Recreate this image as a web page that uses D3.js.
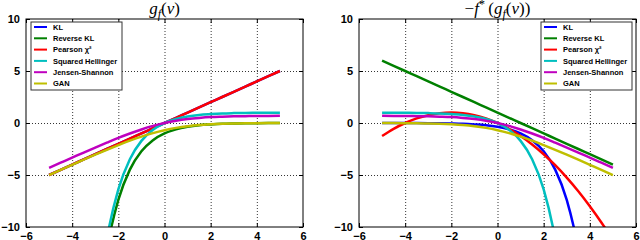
<!DOCTYPE html>
<html>
<head>
  <meta charset="utf-8">
  <style>
    body {
      margin: 0;
      background: #fff;
    }

    .tick text {
      font-family: "Liberation Sans", Arial, sans-serif;
      font-weight: bold;
      font-size: 11px;
      fill: #000;
    }

    .grid line {
      stroke: #000;
      stroke-width: 0.8;
      stroke-dasharray: 1, 2;
    }

    .grid path {
      display: none;
    }

    .legend text {
      font-family: "Liberation Sans", Arial, sans-serif;
      font-weight: bold;
      font-size: 7.5px;
    }

    .title {
      font-family: "Liberation Serif", "DejaVu Serif", serif;
      font-size: 17px;
    }
  </style>
</head>
<body>
  <svg id="chart" width="640" height="240"></svg>
  <script src="https://d3js.org/d3.v7.min.js"></script>
  <script>

    // DATA
    var vValues = [-5, -4.5, -4, -3.5, -3, -2.5, -2, -1.5, -1, -0.5, 0, 0.5, 1, 1.5, 2, 2.5, 3, 3.5, 4, 4.5, 5];

    var seriesNames = ['KL', 'Reverse KL', 'Pearson \u03c7\u00b2', 'Squared Hellinger', 'Jensen-Shannon', 'GAN'];
    var seriesColors = ['#0000ff', '#008000', '#ff0000', '#00bfbf', '#bf00bf', '#bfbf00'];

    var xTicks = [-6, -4, -2, 0, 2, 4, 6];
    var yTicks = [-10, -5, 0, 5, 10];

    // left panel: g_f(v)
    var gKL = [-5, -4.5, -4, -3.5, -3, -2.5, -2, -1.5, -1, -0.5, 0, 0.5, 1, 1.5, 2, 2.5, 3, 3.5, 4, 4.5, 5];
    var gReverseKL = [-148.4, -90.0, -54.6, -33.1, -20.1, -12.18, -7.39, -4.48, -2.72, -1.65, -1, -0.61, -0.37, -0.22, -0.14, -0.08, -0.05, -0.03, -0.02, -0.01, -0.01];
    var gPearson = [-5, -4.5, -4, -3.5, -3, -2.5, -2, -1.5, -1, -0.5, 0, 0.5, 1, 1.5, 2, 2.5, 3, 3.5, 4, 4.5, 5];
    var gHellinger = [-147.4, -89.0, -53.6, -32.1, -19.1, -11.18, -6.39, -3.48, -1.72, -0.65, 0, 0.39, 0.63, 0.78, 0.86, 0.92, 0.95, 0.97, 0.98, 0.99, 0.99];
    var gJS = [-4.31, -3.82, -3.33, -2.84, -2.36, -1.89, -1.43, -1.01, -0.62, -0.28, 0, 0.22, 0.38, 0.49, 0.57, 0.61, 0.64, 0.66, 0.68, 0.68, 0.69];
    var gGAN = [-5.01, -4.51, -4.02, -3.53, -3.05, -2.58, -2.13, -1.70, -1.31, -0.97, -0.69, -0.47, -0.31, -0.20, -0.13, -0.08, -0.05, -0.03, -0.02, -0.01, -0.01];

    // right panel: -f*(g_f(v))
    var cKL = [-0.002, -0.004, -0.007, -0.01, -0.02, -0.03, -0.05, -0.08, -0.14, -0.22, -0.37, -0.61, -1, -1.65, -2.72, -4.48, -7.39, -12.18, -20.1, -33.1, -54.6];
    var cReverseKL = [6, 5.5, 5, 4.5, 4, 3.5, 3, 2.5, 2, 1.5, 1, 0.5, 0, -0.5, -1, -1.5, -2, -2.5, -3, -3.5, -4];
    var cPearson = [-1.25, -0.56, 0, 0.44, 0.75, 0.94, 1, 0.94, 0.75, 0.44, 0, -0.56, -1.25, -2.06, -3, -4.06, -5.25, -6.56, -8, -9.56, -11.25];
    var cHellinger = [0.99, 0.99, 0.98, 0.97, 0.95, 0.92, 0.86, 0.78, 0.63, 0.39, 0, -0.65, -1.72, -3.48, -6.39, -11.18, -19.1, -32.1, -53.6, -89.0, -147.4];
    var cJS = [0.69, 0.68, 0.68, 0.66, 0.64, 0.61, 0.57, 0.49, 0.38, 0.22, 0, -0.28, -0.62, -1.01, -1.43, -1.89, -2.36, -2.84, -3.33, -3.82, -4.31];
    var cGAN = [-0.01, -0.01, -0.02, -0.03, -0.05, -0.08, -0.13, -0.20, -0.31, -0.47, -0.69, -0.97, -1.31, -1.70, -2.13, -2.58, -3.05, -3.53, -4.02, -4.51, -5.01];

    // LAYOUT
    var svg = d3.select('#chart');

    var panelWidth = 277;
    var panelHeight = 208;
    var marginTop = 19;

    var panels = [
      { left: 26, series: [gKL, gReverseKL, gPearson, gHellinger, gJS, gGAN], legendX: 5, titleX: 138.5, title: 'g' },
      { left: 359, series: [cKL, cReverseKL, cPearson, cHellinger, cJS, cGAN], legendX: 182, titleX: 138.5, title: 'f' }
    ];

    panels.forEach(function(panel, idx) {

      var x = d3.scaleLinear().domain([-6, 6]).range([0, panelWidth]);
      var y = d3.scaleLinear().domain([-10, 10]).range([panelHeight, 0]);

      var g = svg.append('g')
        .attr('transform', `translate(${panel.left},${marginTop})`);

      g.append('clipPath')
        .attr('id', 'clip' + idx)
        .append('rect')
          .attr('width', panelWidth)
          .attr('height', panelHeight);

      // grid
      g.append('g')
        .attr('class', 'grid')
        .call(d3.axisBottom(x).tickValues(xTicks.slice(1, -1)).tickSize(panelHeight).tickFormat(''));

      g.append('g')
        .attr('class', 'grid')
        .call(d3.axisLeft(y).tickValues(yTicks.slice(1, -1)).tickSize(-panelWidth).tickFormat(''));

      // lines
      var line = d3.line()
        .x(function(d, i) { return x(vValues[i]); })
        .y(function(d) { return y(d); })
        .curve(d3.curveMonotoneX);

      g.append('g')
        .attr('clip-path', `url(#clip${idx})`)
        .selectAll('path')
        .data(panel.series)
        .enter()
          .append('path')
            .attr('d', line)
            .style('fill', 'none')
            .style('stroke', function(d, i) { return seriesColors[i]; })
            .style('stroke-width', 2.5)
            .style('stroke-linejoin', 'round');

      // axes (inward ticks on all sides)
      var fmt = d3.format('d');

      var bottom = g.append('g')
        .attr('transform', `translate(0,${panelHeight})`)
        .call(d3.axisBottom(x).tickValues(xTicks).tickSize(-4).tickPadding(5).tickFormat(fmt));
      bottom.selectAll('text').attr('y', 13).attr('dy', 0);

      g.append('g')
        .call(d3.axisLeft(y).tickValues(yTicks).tickSize(-4).tickPadding(6).tickFormat(fmt));

      g.append('g')
        .call(d3.axisTop(x).tickValues(xTicks).tickSize(-4).tickFormat(''));

      g.append('g')
        .attr('transform', `translate(${panelWidth},0)`)
        .call(d3.axisRight(y).tickValues(yTicks).tickSize(-4).tickFormat(''));

      g.selectAll('.domain').remove();
      g.selectAll('.tick line').style('stroke', '#000');

      g.append('rect')
        .attr('width', panelWidth)
        .attr('height', panelHeight)
        .style('fill', 'none')
        .style('stroke', '#000')
        .style('stroke-width', 1);

      // legend
      var legend = g.append('g')
        .attr('class', 'legend')
        .attr('transform', `translate(${panel.legendX},3)`);

      legend.append('rect')
        .attr('width', 91)
        .attr('height', 68)
        .style('fill', '#fff')
        .style('stroke', '#333')
        .style('stroke-width', 1);

      var row = legend.selectAll('.row')
        .data(seriesNames)
        .enter()
          .append('g')
            .attr('class', 'row')
            .attr('transform', function(d, i) { return `translate(0,${5 + i * 11.3})`; });

      row.append('line')
        .attr('x1', 3)
        .attr('x2', 16)
        .style('stroke', function(d, i) { return seriesColors[i]; })
        .style('stroke-width', 2);

      row.append('text')
        .attr('x', 22)
        .attr('dy', '0.35em')
        .text(function(d) { return d; });

      // title
      var title = g.append('text')
        .attr('class', 'title')
        .attr('x', panel.titleX)
        .attr('y', -5)
        .attr('text-anchor', 'middle');

      if (panel.title === 'g') {
        title.append('tspan').style('font-style', 'italic').text('g');
        title.append('tspan').style('font-style', 'italic').style('font-size', '12px').attr('dy', 4).text('f');
        title.append('tspan').attr('dy', -4).text('(');
        title.append('tspan').style('font-style', 'italic').text('v');
        title.append('tspan').text(')');
      } else {
        title.append('tspan').text('\u2212');
        title.append('tspan').style('font-style', 'italic').text('f');
        title.append('tspan').style('font-size', '12px').attr('dy', -6).text('*');
        title.append('tspan').attr('dy', 6).text('\u2009(');
        title.append('tspan').style('font-style', 'italic').text('g');
        title.append('tspan').style('font-style', 'italic').style('font-size', '12px').attr('dy', 4).text('f');
        title.append('tspan').attr('dy', -4).text('(');
        title.append('tspan').style('font-style', 'italic').text('v');
        title.append('tspan').text('))');
      }
    });
  </script>
</body>
</html>
